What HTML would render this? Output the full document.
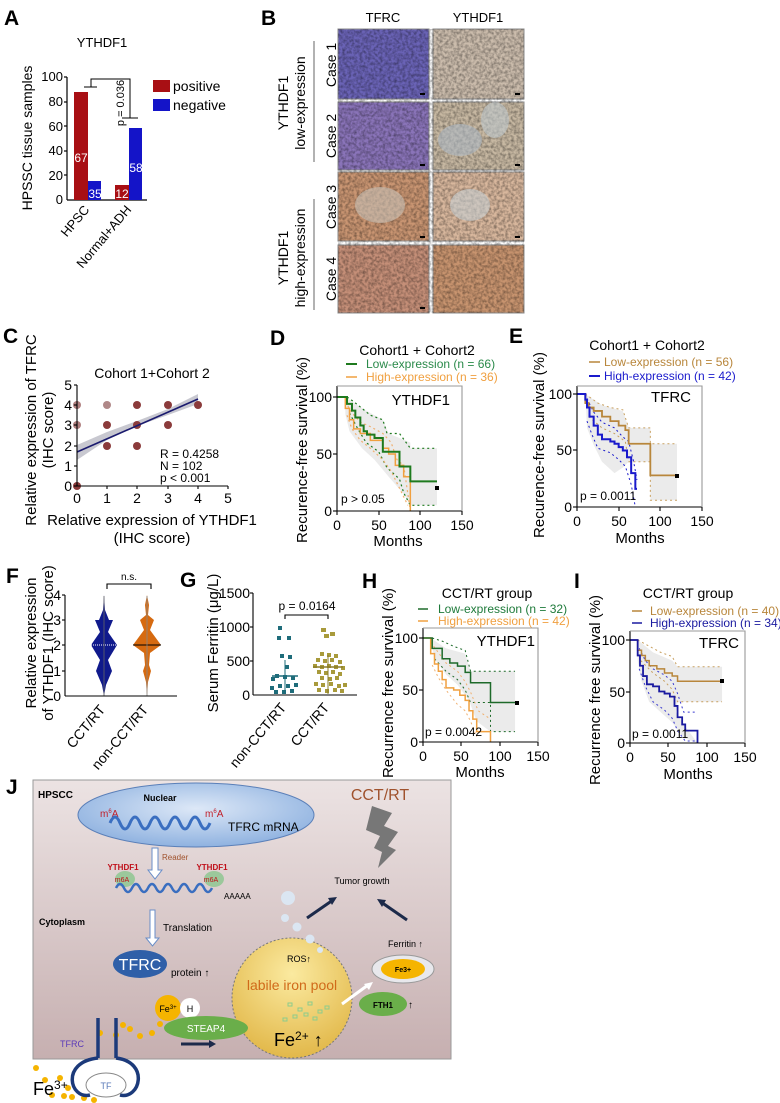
<!DOCTYPE html>
<html><head><meta charset="utf-8"><style>
html,body{margin:0;padding:0;background:#fff}
svg{display:block}
text{font-family:"Liberation Sans",Arial,sans-serif}
</style></head><body>
<svg width="780" height="1103" viewBox="0 0 780 1103" xmlns="http://www.w3.org/2000/svg">
<defs>
<filter id="tex" x="0" y="0" width="100%" height="100%">
<feTurbulence type="fractalNoise" baseFrequency="0.35" numOctaves="2" seed="3"/>
<feColorMatrix type="matrix" values="0 0 0 0 0  0 0 0 0 0  0 0 0 0 0  0 0 0 -1.8 1.2"/>
</filter>
<linearGradient id="bg" x1="0" y1="0" x2="0" y2="1"><stop offset="0" stop-color="#ece3e3"/><stop offset="1" stop-color="#c6afb0"/></linearGradient>
<radialGradient id="nuc" cx="0.5" cy="0.4" r="0.6"><stop offset="0" stop-color="#dde8f7"/><stop offset="1" stop-color="#8fb2e0"/></radialGradient>
<radialGradient id="lip" cx="0.5" cy="0.3" r="0.7"><stop offset="0" stop-color="#fbeaa0"/><stop offset="1" stop-color="#e2b84a"/></radialGradient>
</defs>

<!-- ===== A ===== -->
<text x="4" y="25" font-size="21" font-weight="bold">A</text>
<text x="102" y="47" font-size="13" text-anchor="middle">YTHDF1</text>
<g font-size="13" text-anchor="end">
<text x="63" y="81">100</text><text x="63" y="106">80</text><text x="63" y="131">60</text><text x="63" y="155">40</text><text x="63" y="180">20</text><text x="63" y="204">0</text>
</g>
<g stroke="#000" stroke-width="1.2">
<line x1="67" y1="77" x2="67" y2="200"/><line x1="67" y1="200" x2="147" y2="200"/>
<line x1="64" y1="77" x2="67" y2="77"/><line x1="64" y1="102" x2="67" y2="102"/><line x1="64" y1="126" x2="67" y2="126"/><line x1="64" y1="151" x2="67" y2="151"/><line x1="64" y1="175" x2="67" y2="175"/>
</g>
<rect x="74" y="92" width="14" height="108" fill="#a80f14"/>
<rect x="88" y="181" width="13" height="19" fill="#1414c8"/>
<rect x="115" y="185" width="14" height="15" fill="#a80f14"/>
<rect x="129" y="128" width="13" height="72" fill="#1414c8"/>
<g fill="#fff" font-size="12" text-anchor="middle">
<text x="81" y="162">67</text><text x="95" y="198">35</text><text x="122" y="198">12</text><text x="136" y="172">58</text>
</g>
<g stroke="#000" stroke-width="1" fill="none">
<polyline points="91,87 91,79 130,79 130,118"/>
<line x1="84" y1="87" x2="97" y2="87"/><line x1="122" y1="118" x2="138" y2="118"/>
</g>
<text transform="translate(124,103) rotate(-90)" font-size="11" text-anchor="middle">p = 0.036</text>
<rect x="153" y="80" width="17" height="12" fill="#a80f14"/>
<rect x="153" y="99" width="17" height="12" fill="#1414c8"/>
<text x="173" y="91" font-size="14">positive</text>
<text x="173" y="110" font-size="14">negative</text>
<text transform="translate(32,138) rotate(-90)" font-size="14" text-anchor="middle">HPSSC tissue samples</text>
<text transform="translate(90,210) rotate(-50)" font-size="13" text-anchor="end">HPSC</text>
<text transform="translate(132,210) rotate(-50)" font-size="13" text-anchor="end">Normal+ADH</text>

<!-- ===== B ===== -->
<text x="261" y="25" font-size="21" font-weight="bold">B</text>
<text x="383" y="22" font-size="13" text-anchor="middle">TFRC</text>
<text x="478" y="22" font-size="13" text-anchor="middle">YTHDF1</text>
<g stroke="#888" stroke-width="1">
<rect x="338" y="29" width="91" height="70" fill="#6a63b6"/>
<rect x="433" y="29" width="91" height="70" fill="#cbbcac"/>
<rect x="338" y="102" width="91" height="68" fill="#8a74b9"/>
<rect x="433" y="102" width="91" height="68" fill="#c7b8a2"/>
<rect x="338" y="172" width="91" height="69" fill="#c99572"/>
<rect x="433" y="172" width="91" height="69" fill="#d8b79d"/>
<rect x="338" y="245" width="91" height="68" fill="#c58f78"/>
<rect x="433" y="245" width="91" height="68" fill="#c8946f"/>
</g>
<g opacity="0.4">
<rect x="338" y="29" width="186" height="284" fill="#000" filter="url(#tex)"/>
</g>
<ellipse cx="460" cy="140" rx="22" ry="16" fill="#aeb9c4" opacity="0.6"/>
<ellipse cx="495" cy="120" rx="14" ry="18" fill="#c0c9cf" opacity="0.6"/>
<ellipse cx="380" cy="205" rx="25" ry="18" fill="#c8c2b8" opacity="0.6"/>
<ellipse cx="470" cy="205" rx="20" ry="16" fill="#c7ced2" opacity="0.6"/>
<g fill="#000"><rect x="420" y="93" width="5" height="2"/><rect x="515" y="93" width="5" height="2"/><rect x="420" y="164" width="5" height="2"/><rect x="515" y="164" width="5" height="2"/><rect x="420" y="236" width="5" height="2"/><rect x="515" y="236" width="5" height="2"/><rect x="420" y="307" width="5" height="2"/></g>
<g font-size="14" text-anchor="middle">
<text transform="translate(336,65) rotate(-90)">Case 1</text>
<text transform="translate(336,136) rotate(-90)">Case 2</text>
<text transform="translate(336,207) rotate(-90)">Case 3</text>
<text transform="translate(336,279) rotate(-90)">Case 4</text>
<text transform="translate(288,103) rotate(-90)">YTHDF1</text>
<text transform="translate(305,103) rotate(-90)">low-expression</text>
<text transform="translate(288,258) rotate(-90)">YTHDF1</text>
<text transform="translate(305,258) rotate(-90)">high-expression</text>
</g>
<line x1="314" y1="41" x2="314" y2="162" stroke="#666"/>
<line x1="314" y1="199" x2="314" y2="310" stroke="#666"/>

<!-- ===== C ===== -->
<text x="3" y="343" font-size="21" font-weight="bold">C</text>
<text x="152" y="378" font-size="14" text-anchor="middle">Cohort 1+Cohort 2</text>
<polygon points="77,445 107,432 137,421 168,409 198,394 198,404 168,415 137,426 107,440 77,460" fill="#c8c8d0"/>
<g fill="#8b3b3b">
<circle cx="77" cy="405" r="4" fill="#b08080"/><circle cx="77" cy="425" r="4" fill="#b08080"/><circle cx="77" cy="486" r="4"/>
<circle cx="107" cy="405" r="4" fill="#b08888"/><circle cx="107" cy="425" r="4"/><circle cx="107" cy="446" r="4"/>
<circle cx="137" cy="405" r="4"/><circle cx="137" cy="425" r="4"/><circle cx="137" cy="446" r="4"/>
<circle cx="168" cy="405" r="4"/><circle cx="168" cy="425" r="4"/><circle cx="198" cy="405" r="4"/>
</g>
<line x1="77" y1="452" x2="198" y2="399" stroke="#1a1a6e" stroke-width="1.6"/>
<g stroke="#000" stroke-width="1.1">
<line x1="77" y1="385" x2="77" y2="486"/><line x1="77" y1="486" x2="228" y2="486"/>
<line x1="74" y1="385" x2="77" y2="385"/><line x1="74" y1="405" x2="77" y2="405"/><line x1="74" y1="425" x2="77" y2="425"/><line x1="74" y1="446" x2="77" y2="446"/><line x1="74" y1="466" x2="77" y2="466"/><line x1="74" y1="486" x2="77" y2="486"/>
<line x1="107" y1="486" x2="107" y2="489"/><line x1="137" y1="486" x2="137" y2="489"/><line x1="168" y1="486" x2="168" y2="489"/><line x1="198" y1="486" x2="198" y2="489"/><line x1="228" y1="486" x2="228" y2="489"/>
</g>
<g font-size="14" text-anchor="end">
<text x="72" y="390">5</text><text x="72" y="410">4</text><text x="72" y="430">3</text><text x="72" y="451">2</text><text x="72" y="471">1</text><text x="72" y="491">0</text>
</g>
<g font-size="14" text-anchor="middle">
<text x="77" y="503">0</text><text x="107" y="503">1</text><text x="137" y="503">2</text><text x="168" y="503">3</text><text x="198" y="503">4</text><text x="228" y="503">5</text>
</g>
<g font-size="12"><text x="160" y="458">R = 0.4258</text><text x="160" y="470">N = 102</text><text x="160" y="482">p &lt; 0.001</text></g>
<text x="152" y="525" font-size="15" text-anchor="middle">Relative expression of YTHDF1</text>
<text x="152" y="543" font-size="15" text-anchor="middle">(IHC score)</text>
<text transform="translate(36,430) rotate(-90)" font-size="15" text-anchor="middle">Relative expression of TFRC</text>
<text transform="translate(53,430) rotate(-90)" font-size="15" text-anchor="middle">(IHC score)</text>

<!-- ===== D ===== -->
<text x="270" y="345" font-size="21" font-weight="bold">D</text>
<text x="417" y="355" font-size="14" text-anchor="middle">Cohort1 + Cohort2</text>
<line x1="346" y1="364" x2="357" y2="364" stroke="#1e7a1e" stroke-width="2"/>
<text x="366" y="368" font-size="12" fill="#2a8a4a">Low-expression (n = 66)</text>
<line x1="346" y1="377" x2="357" y2="377" stroke="#f0a040" stroke-width="1.5"/>
<text x="366" y="381" font-size="12" fill="#f0a040">High-expression (n = 36)</text>
<g transform="translate(337,511) scale(0.8333,-1.14)">
<polygon points="10,100 20,95 35,88 55,80 62,68 88,60 88,55 120,55 120,5 88,5 80,15 62,30 45,45 30,55 15,70 10,85" fill="#ebebeb"/>
<g fill="none" stroke-dasharray="2,3" stroke-width="1.2">
<polyline vector-effect="non-scaling-stroke" points="12,100 20,96 30,90 40,84 55,80 60,68 75,68 88,55 120,55" stroke="#1e7a1e"/>
<polyline vector-effect="non-scaling-stroke" points="15,86 25,72 35,60 50,52 60,38 75,28 80,16 88,5 120,5" stroke="#1e7a1e"/>
<polyline vector-effect="non-scaling-stroke" points="10,96 18,86 28,78 40,74 55,68 65,60 72,45 80,40 88,0" stroke="#f0b070"/>
<polyline vector-effect="non-scaling-stroke" points="12,84 18,72 28,62 40,55 55,45 65,35 75,20 85,5" stroke="#f0b070"/>
</g>
<polyline vector-effect="non-scaling-stroke" fill="none" stroke="#f0a040" stroke-width="1.5" points="0,100 10,100 10,90 15,90 15,80 20,80 20,72 28,72 28,68 40,68 40,62 55,62 55,55 62,55 62,50 70,50 70,40 80,40 80,30 88,30 88,0"/>
<polyline vector-effect="non-scaling-stroke" fill="none" stroke="#1e7a1e" stroke-width="2" points="0,100 12,100 12,94 18,94 18,88 22,88 22,82 28,82 28,75 32,75 32,70 36,70 36,67 45,67 45,64 55,64 55,52 75,52 75,39 88,39 88,26 120,26"/>
</g>
<rect x="435" y="486" width="4" height="4" fill="#000"/>
<g stroke="#000" stroke-width="1.1">
<polyline points="337,386 337,511 462,511" fill="none"/>
<polyline points="337,386 462,386 462,511" fill="none" stroke="#999"/>
<line x1="333" y1="397" x2="337" y2="397"/><line x1="333" y1="454" x2="337" y2="454"/><line x1="333" y1="511" x2="337" y2="511"/>
<line x1="337" y1="511" x2="337" y2="515"/><line x1="379" y1="511" x2="379" y2="515"/><line x1="420" y1="511" x2="420" y2="515"/><line x1="462" y1="511" x2="462" y2="515"/>
</g>
<g font-size="14" text-anchor="end"><text x="332" y="402">100</text><text x="332" y="459">50</text><text x="332" y="516">0</text></g>
<g font-size="14" text-anchor="middle"><text x="337" y="530">0</text><text x="379" y="530">50</text><text x="420" y="530">100</text><text x="462" y="530">150</text></g>
<text x="450" y="405" font-size="15" text-anchor="end">YTHDF1</text>
<text x="341" y="503" font-size="12">p &gt; 0.05</text>
<text x="398" y="546" font-size="15" text-anchor="middle">Months</text>
<text transform="translate(307,450) rotate(-90)" font-size="15" text-anchor="middle">Recurence-free survival (%)</text>

<!-- ===== E ===== -->
<text x="509" y="343" font-size="21" font-weight="bold">E</text>
<text x="647" y="350" font-size="14" text-anchor="middle">Cohort1 + Cohort2</text>
<line x1="589" y1="362" x2="600" y2="362" stroke="#b8863b" stroke-width="1.5"/>
<text x="604" y="366" font-size="12" fill="#b8863b">Low-expression (n = 56)</text>
<line x1="589" y1="376" x2="600" y2="376" stroke="#1a1acc" stroke-width="2"/>
<text x="604" y="380" font-size="12" fill="#1a1acc">High-expression (n = 42)</text>
<g transform="translate(577,507) scale(0.8333,-1.13)">
<polygon points="10,100 30,90 55,85 62,70 88,70 88,56 120,56 120,6 88,6 88,40 62,40 55,35 45,30 30,40 20,55 12,70" fill="#ebebeb"/>
<g fill="none" stroke-dasharray="2,3">
<polyline vector-effect="non-scaling-stroke" points="10,100 25,92 40,88 55,86 62,70 88,70 88,56 120,56" stroke="#c8a060"/>
<polyline vector-effect="non-scaling-stroke" points="14,80 30,70 45,65 58,58 62,40 88,40 88,6 120,6" stroke="#c8a060"/>
<polyline vector-effect="non-scaling-stroke" points="12,96 20,84 30,75 45,70 55,62 62,58 68,40 72,24" stroke="#1a1acc"/>
<polyline vector-effect="non-scaling-stroke" points="12,76 18,64 25,52 40,48 50,42 58,36 65,20 70,0" stroke="#1a1acc"/>
</g>
<polyline vector-effect="non-scaling-stroke" fill="none" stroke="#b8863b" stroke-width="1.8" points="0,100 10,100 10,92 14,92 14,88 20,88 20,85 30,85 30,80 40,80 40,76 50,76 50,72 58,72 58,68 62,68 62,56 88,56 88,28 120,28"/>
<polyline vector-effect="non-scaling-stroke" fill="none" stroke="#1a1acc" stroke-width="2" points="0,100 10,100 10,95 12,95 12,88 15,88 15,80 20,80 20,72 25,72 25,64 30,64 30,60 40,60 40,58 45,58 45,56 50,56 50,53 55,53 55,50 60,50 60,44 65,44 65,30 70,30 70,16 72,16"/>
</g>
<rect x="675" y="474" width="4" height="4" fill="#000"/>
<g stroke="#000" stroke-width="1.1">
<polyline points="577,386 577,507 702,507" fill="none"/>
<polyline points="577,386 702,386 702,507" fill="none" stroke="#999"/>
<line x1="573" y1="394" x2="577" y2="394"/><line x1="573" y1="450" x2="577" y2="450"/><line x1="573" y1="507" x2="577" y2="507"/>
<line x1="577" y1="507" x2="577" y2="511"/><line x1="619" y1="507" x2="619" y2="511"/><line x1="660" y1="507" x2="660" y2="511"/><line x1="702" y1="507" x2="702" y2="511"/>
</g>
<g font-size="14" text-anchor="end"><text x="572" y="399">100</text><text x="572" y="455">50</text><text x="572" y="512">0</text></g>
<g font-size="14" text-anchor="middle"><text x="577" y="526">0</text><text x="619" y="526">50</text><text x="660" y="526">100</text><text x="702" y="526">150</text></g>
<text x="691" y="402" font-size="15" text-anchor="end">TFRC</text>
<text x="580" y="500" font-size="12">p = 0.0011</text>
<text x="640" y="543" font-size="15" text-anchor="middle">Months</text>
<text transform="translate(544,445) rotate(-90)" font-size="15" text-anchor="middle">Recurence-free survival (%)</text>

<!-- ===== F ===== -->
<text x="6" y="583" font-size="21" font-weight="bold">F</text>
<g font-size="14" text-anchor="end"><text x="61" y="600">4</text><text x="61" y="625">3</text><text x="61" y="650">2</text><text x="61" y="676">1</text><text x="61" y="701">0</text></g>
<polygon points="104,595 105,610 109,620 113,620 108,632 117,645 108,660 112,671 106,685 104,696 102,685 96,671 100,660 91,645 100,632 95,620 99,620 103,610" fill="#101a8c"/>
<line x1="91" y1="645" x2="117" y2="645" stroke="#fff" stroke-dasharray="1,1"/>
<polygon points="147,595 149,605 148,615 154,620 150,630 161,645 150,653 149,665 151,671 148,682 147,696 146,682 143,671 145,665 144,653 133,645 144,630 140,620 146,615 145,605" fill="#d66a10"/>
<line x1="133" y1="645" x2="161" y2="645" stroke="#000"/>
<line x1="104" y1="596" x2="104" y2="696" stroke="#666" stroke-width="0.8"/>
<line x1="147" y1="596" x2="147" y2="696" stroke="#888" stroke-width="0.8"/>
<g stroke="#000" stroke-width="1.1">
<line x1="65" y1="595" x2="65" y2="696"/><line x1="65" y1="696" x2="177" y2="696"/>
<line x1="62" y1="595" x2="65" y2="595"/><line x1="62" y1="620" x2="65" y2="620"/><line x1="62" y1="645" x2="65" y2="645"/><line x1="62" y1="671" x2="65" y2="671"/>
<polyline points="107,589 107,584 151,584 151,589" fill="none"/>
</g>
<text x="129" y="580" font-size="10" text-anchor="middle">n.s.</text>
<text transform="translate(36,643) rotate(-90)" font-size="15" text-anchor="middle">Relative expression</text>
<text transform="translate(53,643) rotate(-90)" font-size="15" text-anchor="middle">of YTHDF1 (IHC score)</text>
<text transform="translate(106,710) rotate(-50)" font-size="14" text-anchor="end">CCT/RT</text>
<text transform="translate(149,710) rotate(-50)" font-size="14" text-anchor="end">non-CCT/RT</text>

<!-- ===== G ===== -->
<text x="180" y="587" font-size="21" font-weight="bold">G</text>
<g font-size="14" text-anchor="end"><text x="250" y="598">1500</text><text x="250" y="632">1000</text><text x="250" y="666">500</text><text x="250" y="700">0</text></g>
<g stroke="#000" stroke-width="1.1">
<line x1="253" y1="593" x2="253" y2="695"/><line x1="253" y1="695" x2="357" y2="695"/>
<line x1="250" y1="593" x2="253" y2="593"/><line x1="250" y1="627" x2="253" y2="627"/><line x1="250" y1="661" x2="253" y2="661"/>
<polyline points="285,619 285,615 328,615 328,619" fill="none"/>
</g>
<text x="307" y="610" font-size="12" text-anchor="middle">p = 0.0164</text>
<g fill="#1e6c7a">
<rect x="278" y="626" width="4" height="4"/><rect x="287" y="636" width="4" height="4"/><rect x="277" y="636" width="4" height="4"/>
<rect x="280" y="654" width="4" height="4"/><rect x="288" y="655" width="4" height="4"/><rect x="285" y="665" width="4" height="4"/>
<rect x="275" y="674" width="4" height="4"/><rect x="283" y="675" width="4" height="4"/><rect x="291" y="676" width="4" height="4"/>
<rect x="271" y="677" width="4" height="4"/><rect x="278" y="684" width="4" height="4"/><rect x="286" y="684" width="4" height="4"/><rect x="294" y="683" width="4" height="4"/><rect x="270" y="686" width="4" height="4"/><rect x="282" y="690" width="4" height="4"/><rect x="274" y="690" width="4" height="4"/><rect x="290" y="689" width="4" height="4"/>
</g>
<line x1="272" y1="676" x2="298" y2="676" stroke="#1e6c7a" stroke-width="1.5"/>
<line x1="285" y1="660" x2="285" y2="694" stroke="#1e6c7a"/>
<g fill="#a89a3b">
<rect x="321" y="628" width="5" height="4"/><rect x="330" y="632" width="5" height="4"/><rect x="324" y="634" width="5" height="4"/>
<rect x="320" y="652" width="4" height="4"/><rect x="327" y="653" width="4" height="4"/><rect x="334" y="654" width="4" height="4"/>
<rect x="316" y="658" width="4" height="4"/><rect x="323" y="659" width="4" height="4"/><rect x="330" y="658" width="4" height="4"/><rect x="338" y="660" width="4" height="4"/>
<rect x="313" y="664" width="4" height="4"/><rect x="320" y="665" width="4" height="4"/><rect x="327" y="664" width="4" height="4"/><rect x="334" y="665" width="4" height="4"/><rect x="341" y="666" width="4" height="4"/>
<rect x="317" y="670" width="4" height="4"/><rect x="324" y="671" width="4" height="4"/><rect x="331" y="670" width="4" height="4"/><rect x="338" y="672" width="4" height="4"/>
<rect x="320" y="676" width="4" height="4"/><rect x="328" y="677" width="4" height="4"/><rect x="335" y="676" width="4" height="4"/>
<rect x="314" y="682" width="4" height="4"/><rect x="321" y="683" width="4" height="4"/><rect x="329" y="682" width="4" height="4"/><rect x="337" y="684" width="4" height="4"/><rect x="343" y="683" width="4" height="4"/>
<rect x="317" y="688" width="4" height="4"/><rect x="325" y="689" width="4" height="4"/><rect x="333" y="688" width="4" height="4"/><rect x="340" y="689" width="4" height="4"/>
</g>
<line x1="313" y1="667" x2="343" y2="667" stroke="#8a7d28" stroke-width="1.5"/>
<line x1="328" y1="655" x2="328" y2="694" stroke="#8a7d28"/>
<text transform="translate(218,643) rotate(-90)" font-size="15" text-anchor="middle">Serum Ferritin (μg/L)</text>
<text transform="translate(287,708) rotate(-50)" font-size="14" text-anchor="end">non-CCT/RT</text>
<text transform="translate(330,708) rotate(-50)" font-size="14" text-anchor="end">CCT/RT</text>

<!-- ===== H ===== -->
<text x="362" y="588" font-size="21" font-weight="bold">H</text>
<text x="487" y="598" font-size="14" text-anchor="middle">CCT/RT group</text>
<line x1="418" y1="609" x2="428" y2="609" stroke="#1e6a2a" stroke-width="1.5"/>
<text x="438" y="613" font-size="12" fill="#1e7a3a">Low-expression (n = 32)</text>
<line x1="418" y1="621" x2="428" y2="621" stroke="#f0a040" stroke-width="1.5"/>
<text x="438" y="625" font-size="12" fill="#f0a040">High-expression (n = 42)</text>
<g transform="translate(423,742) scale(0.767,-1.04)">
<polygon points="10,100 30,90 55,85 62,68 88,68 120,68 120,10 88,10 70,20 60,40 45,55 30,65 15,80" fill="#ebebeb"/>
<g fill="none" stroke-dasharray="2,3">
<polyline vector-effect="non-scaling-stroke" points="12,100 25,97 40,92 55,88 62,68 88,68 120,68" stroke="#1e6a2a"/>
<polyline vector-effect="non-scaling-stroke" points="15,80 30,68 45,60 55,50 62,38 88,38 88,10 120,10" stroke="#1e6a2a"/>
<polyline vector-effect="non-scaling-stroke" points="10,96 20,86 30,76 45,68 55,58 62,48 72,30 88,22" stroke="#f0b070"/>
<polyline vector-effect="non-scaling-stroke" points="12,74 20,62 30,50 45,36 55,30 62,20 70,5" stroke="#f0b070"/>
</g>
<polyline vector-effect="non-scaling-stroke" fill="none" stroke="#f0a040" stroke-width="1.5" points="0,100 10,100 10,85 15,85 15,75 20,75 20,68 25,68 25,60 30,60 30,52 40,52 40,50 48,50 48,45 55,45 55,40 60,40 60,30 65,30 65,22 70,22 70,10 88,10 88,0"/>
<polyline vector-effect="non-scaling-stroke" fill="none" stroke="#1e6a2a" stroke-width="1.5" points="0,100 12,100 12,90 25,90 25,80 35,80 35,76 45,76 45,73 55,73 55,67 62,67 62,57 88,57 88,38 120,38"/>
</g>
<rect x="515" y="701" width="4" height="4" fill="#000"/>
<g stroke="#000" stroke-width="1.1">
<polyline points="423,628 423,742 538,742" fill="none"/>
<polyline points="423,628 538,628 538,742" fill="none" stroke="#999"/>
<line x1="419" y1="638" x2="423" y2="638"/><line x1="419" y1="690" x2="423" y2="690"/><line x1="419" y1="742" x2="423" y2="742"/>
<line x1="423" y1="742" x2="423" y2="746"/><line x1="461" y1="742" x2="461" y2="746"/><line x1="500" y1="742" x2="500" y2="746"/><line x1="538" y1="742" x2="538" y2="746"/>
</g>
<g font-size="14" text-anchor="end"><text x="418" y="643">100</text><text x="418" y="695">50</text><text x="418" y="747">0</text></g>
<g font-size="14" text-anchor="middle"><text x="423" y="761">0</text><text x="461" y="761">50</text><text x="500" y="761">100</text><text x="538" y="761">150</text></g>
<text x="535" y="646" font-size="15" text-anchor="end">YTHDF1</text>
<text x="425" y="736" font-size="12">p = 0.0042</text>
<text x="480" y="777" font-size="15" text-anchor="middle">Months</text>
<text transform="translate(393,683) rotate(-90)" font-size="15" text-anchor="middle">Recurrence free survival (%)</text>

<!-- ===== I ===== -->
<text x="574" y="588" font-size="21" font-weight="bold">I</text>
<text x="688" y="598" font-size="14" text-anchor="middle">CCT/RT  group</text>
<line x1="632" y1="611" x2="642" y2="611" stroke="#b8863b" stroke-width="1.5"/>
<text x="650" y="615" font-size="12" fill="#b8863b">Low-expression (n = 40)</text>
<line x1="632" y1="623" x2="642" y2="623" stroke="#1a1aa0" stroke-width="1.5"/>
<text x="650" y="627" font-size="12" fill="#1a1aa0">High-expression (n = 34)</text>
<g transform="translate(630,743) scale(0.767,-1.03)">
<polygon points="10,100 30,88 55,80 62,74 120,74 120,40 62,40 60,30 70,18 88,0 70,5 55,20 40,30 25,40 15,60 10,80" fill="#ebebeb"/>
<g fill="none" stroke-dasharray="2,3">
<polyline vector-effect="non-scaling-stroke" points="10,100 25,94 40,88 55,84 62,74 120,74" stroke="#c8a060"/>
<polyline vector-effect="non-scaling-stroke" points="14,80 30,68 45,60 55,52 62,40 120,40" stroke="#c8a060"/>
<polyline vector-effect="non-scaling-stroke" points="12,92 20,80 30,72 45,66 55,60 62,48 70,30 88,30" stroke="#3a3ad0"/>
<polyline vector-effect="non-scaling-stroke" points="12,72 20,55 30,40 45,32 55,24 62,12 72,2 88,2" stroke="#3a3ad0"/>
</g>
<polyline vector-effect="non-scaling-stroke" fill="none" stroke="#b8863b" stroke-width="1.5" points="0,100 10,100 10,90 15,90 15,85 20,85 20,80 25,80 25,75 35,75 35,72 45,72 45,68 55,68 55,65 62,65 62,60 120,60"/>
<polyline vector-effect="non-scaling-stroke" fill="none" stroke="#1a1aa0" stroke-width="1.8" points="0,100 10,100 10,85 13,85 13,75 17,75 17,65 22,65 22,57 30,57 30,55 38,55 38,50 45,50 45,48 52,48 52,45 58,45 58,36 62,36 62,25 68,25 68,18 72,18 72,12 88,12 88,0"/>
</g>
<rect x="720" y="679" width="4" height="4" fill="#000"/>
<g stroke="#000" stroke-width="1.1">
<polyline points="630,631 630,743 745,743" fill="none"/>
<polyline points="630,631 745,631 745,743" fill="none" stroke="#999"/>
<line x1="626" y1="640" x2="630" y2="640"/><line x1="626" y1="692" x2="630" y2="692"/><line x1="626" y1="743" x2="630" y2="743"/>
<line x1="630" y1="743" x2="630" y2="747"/><line x1="668" y1="743" x2="668" y2="747"/><line x1="707" y1="743" x2="707" y2="747"/><line x1="745" y1="743" x2="745" y2="747"/>
</g>
<g font-size="14" text-anchor="end"><text x="625" y="645">100</text><text x="625" y="697">50</text><text x="625" y="748">0</text></g>
<g font-size="14" text-anchor="middle"><text x="630" y="762">0</text><text x="668" y="762">50</text><text x="707" y="762">100</text><text x="745" y="762">150</text></g>
<text x="739" y="648" font-size="15" text-anchor="end">TFRC</text>
<text x="632" y="738" font-size="12">p = 0.0011</text>
<text x="688" y="779" font-size="15" text-anchor="middle">Months</text>
<text transform="translate(600,690) rotate(-90)" font-size="15" text-anchor="middle">Recurrence free survival (%)</text>

<!-- ===== J ===== -->
<text x="6" y="794" font-size="21" font-weight="bold">J</text>
<rect x="33" y="780" width="418" height="279" fill="url(#bg)" stroke="#999"/>
<text x="38" y="798" font-size="10" font-weight="bold">HPSCC</text>
<ellipse cx="196" cy="815" rx="118" ry="32" fill="url(#nuc)" stroke="#5a7fb8"/>
<text x="160" y="801" font-size="9" font-weight="bold" text-anchor="middle">Nuclear</text>
<text x="100" y="817" font-size="10" fill="#c0202a">m<tspan font-size="6" dy="-4">6</tspan><tspan dy="4">A</tspan></text>
<text x="205" y="817" font-size="10" fill="#c0202a">m<tspan font-size="6" dy="-4">6</tspan><tspan dy="4">A</tspan></text>
<path d="M110 823 q5 -12 10 0 q5 12 10 0 q5 -12 10 0 q5 12 10 0 q5 -12 10 0 q5 12 10 0 q5 -12 10 0 q5 12 10 0 q5 -12 10 0 q5 12 10 0" fill="none" stroke="#3a6ec0" stroke-width="3"/>
<text x="228" y="831" font-size="12">TFRC mRNA</text>
<text x="380" y="800" font-size="16" fill="#a0522d" text-anchor="middle">CCT/RT</text>
<polygon points="372,806 392,813 384,826 398,832 388,846 396,850 378,868 382,852 374,848 380,836 366,830" fill="#777"/>
<polygon points="152,848 158,848 158,870 162,870 155,879 148,870 152,870" fill="#fff" stroke="#6a8ec8"/>
<text x="162" y="860" font-size="8" fill="#a0522d">Reader</text>
<ellipse cx="125" cy="879" rx="10" ry="8" fill="#9bc89b"/>
<ellipse cx="214" cy="879" rx="10" ry="8" fill="#9bc89b"/>
<text x="123" y="870" font-size="8" font-weight="bold" fill="#c0101a" text-anchor="middle">YTHDF1</text>
<text x="212" y="870" font-size="8" font-weight="bold" fill="#c0101a" text-anchor="middle">YTHDF1</text>
<text x="122" y="882" font-size="7" fill="#c0101a" text-anchor="middle">m6A</text>
<text x="211" y="882" font-size="7" fill="#c0101a" text-anchor="middle">m6A</text>
<path d="M116 888 q4 -8 8 0 q4 8 8 0 q4 -8 8 0 q4 8 8 0 q4 -8 8 0 q4 8 8 0 q4 -8 8 0 q4 8 8 0 q4 -8 8 0 q4 8 8 0 q4 -8 8 0 q4 8 8 0" fill="none" stroke="#3a6ec0" stroke-width="2.5"/>
<text x="224" y="899" font-size="8">AAAAA</text>
<text x="39" y="925" font-size="9" font-weight="bold">Cytoplasm</text>
<polygon points="150,910 155,910 155,938 159,938 152.5,946 146,938 150,938" fill="#fff" stroke="#6a8ec8"/>
<text x="163" y="931" font-size="10">Translation</text>
<ellipse cx="140" cy="964" rx="27" ry="14" fill="#2f5fa8"/>
<text x="140" y="970" font-size="16" fill="#fff" text-anchor="middle">TFRC</text>
<text x="171" y="976" font-size="10">protein ↑</text>
<circle cx="292" cy="998" r="60" fill="url(#lip)" stroke="#777" stroke-dasharray="2,2"/>
<text x="292" y="990" font-size="14" fill="#d06a1a" text-anchor="middle">labile iron pool</text>
<text x="287" y="962" font-size="9">ROS↑</text>
<text x="274" y="1046" font-size="18">Fe<tspan font-size="12" dy="-6">2+</tspan><tspan dy="6"> ↑</tspan></text>
<g fill="none" stroke="#8ccc8c" stroke-width="1"><rect x="288" y="1003" width="4" height="3"/><rect x="298" y="1008" width="4" height="3"/><rect x="308" y="1002" width="4" height="3"/><rect x="318" y="1010" width="4" height="3"/><rect x="293" y="1015" width="4" height="3"/><rect x="304" y="1013" width="4" height="3"/><rect x="325" y="1006" width="4" height="3"/><rect x="283" y="1018" width="4" height="3"/><rect x="313" y="1017" width="4" height="3"/></g>
<g fill="#dbe6f2"><circle cx="288" cy="898" r="7"/><circle cx="285" cy="918" r="4"/><circle cx="297" cy="927" r="4.5"/><circle cx="310" cy="939" r="4.5"/><circle cx="320" cy="950" r="3"/></g>
<text x="362" y="884" font-size="9" text-anchor="middle">Tumor growth</text>
<line x1="307" y1="918" x2="333" y2="900" stroke="#1c2a4a" stroke-width="3"/>
<polygon points="337,897 328,898 332,905" fill="#1c2a4a"/>
<line x1="407" y1="920" x2="381" y2="902" stroke="#1c2a4a" stroke-width="3"/>
<polygon points="377,899 386,900 382,907" fill="#1c2a4a"/>
<text x="388" y="947" font-size="9">Ferritin ↑</text>
<ellipse cx="403" cy="969" rx="31" ry="14" fill="#e8e8ec" stroke="#999"/>
<ellipse cx="403" cy="969" rx="22" ry="10" fill="#f5b400"/>
<text x="403" y="972" font-size="7" font-weight="bold" text-anchor="middle">Fe3+</text>
<ellipse cx="383" cy="1004" rx="24" ry="12" fill="#6aae4a"/>
<text x="383" y="1008" font-size="8" font-weight="bold" text-anchor="middle">FTH1</text>
<text x="408" y="1008" font-size="10">↑</text>
<line x1="342" y1="1004" x2="368" y2="985" stroke="#fff" stroke-width="3"/>
<polygon points="373,982 364,984 369,990" fill="#fff"/>
<circle cx="168" cy="1008" r="13" fill="#f5b400"/>
<text x="168" y="1012" font-size="9" text-anchor="middle">Fe<tspan font-size="6" dy="-3">3+</tspan></text>
<circle cx="190" cy="1008" r="10" fill="#fff"/>
<text x="190" y="1012" font-size="9" text-anchor="middle">H</text>
<ellipse cx="206" cy="1028" rx="42" ry="12" fill="#6aae4a"/>
<text x="206" y="1032" font-size="10" fill="#fff" text-anchor="middle">STEAP4</text>
<line x1="181" y1="1044" x2="210" y2="1044" stroke="#1c2a4a" stroke-width="3"/>
<polygon points="216,1044 209,1040 209,1048" fill="#1c2a4a"/>
<g fill="#f5b400"><circle cx="123" cy="1025" r="3"/><circle cx="130" cy="1029" r="3"/><circle cx="140" cy="1036" r="3"/><circle cx="152" cy="1033" r="3"/><circle cx="160" cy="1024" r="3"/><circle cx="100" cy="1033" r="3"/><circle cx="116" cy="1035" r="3"/>
<circle cx="36" cy="1068" r="3"/><circle cx="45" cy="1080" r="3"/><circle cx="60" cy="1078" r="3"/><circle cx="68" cy="1088" r="3"/><circle cx="64" cy="1096" r="3"/><circle cx="72" cy="1097" r="3"/><circle cx="84" cy="1098" r="3"/><circle cx="94" cy="1100" r="3"/><circle cx="52" cy="1095" r="3"/></g>
<g stroke="#1c3a7a" stroke-width="3.5" fill="none">
<line x1="98" y1="1018" x2="98" y2="1058"/><line x1="116" y1="1018" x2="116" y2="1058"/>
<path d="M98 1058 C 60 1062, 70 1100, 90 1095"/><path d="M116 1058 C 150 1062, 140 1100, 120 1095"/>
</g>
<ellipse cx="106" cy="1085" rx="20" ry="12" fill="#fff" stroke="#888"/>
<text x="106" y="1089" font-size="9" fill="#5a7ab8" text-anchor="middle">TF</text>
<text x="60" y="1047" font-size="9" fill="#5a3ab8">TFRC</text>
<text x="33" y="1095" font-size="18">Fe<tspan font-size="12" dy="-6">3+</tspan></text>
</svg>
</body></html>
